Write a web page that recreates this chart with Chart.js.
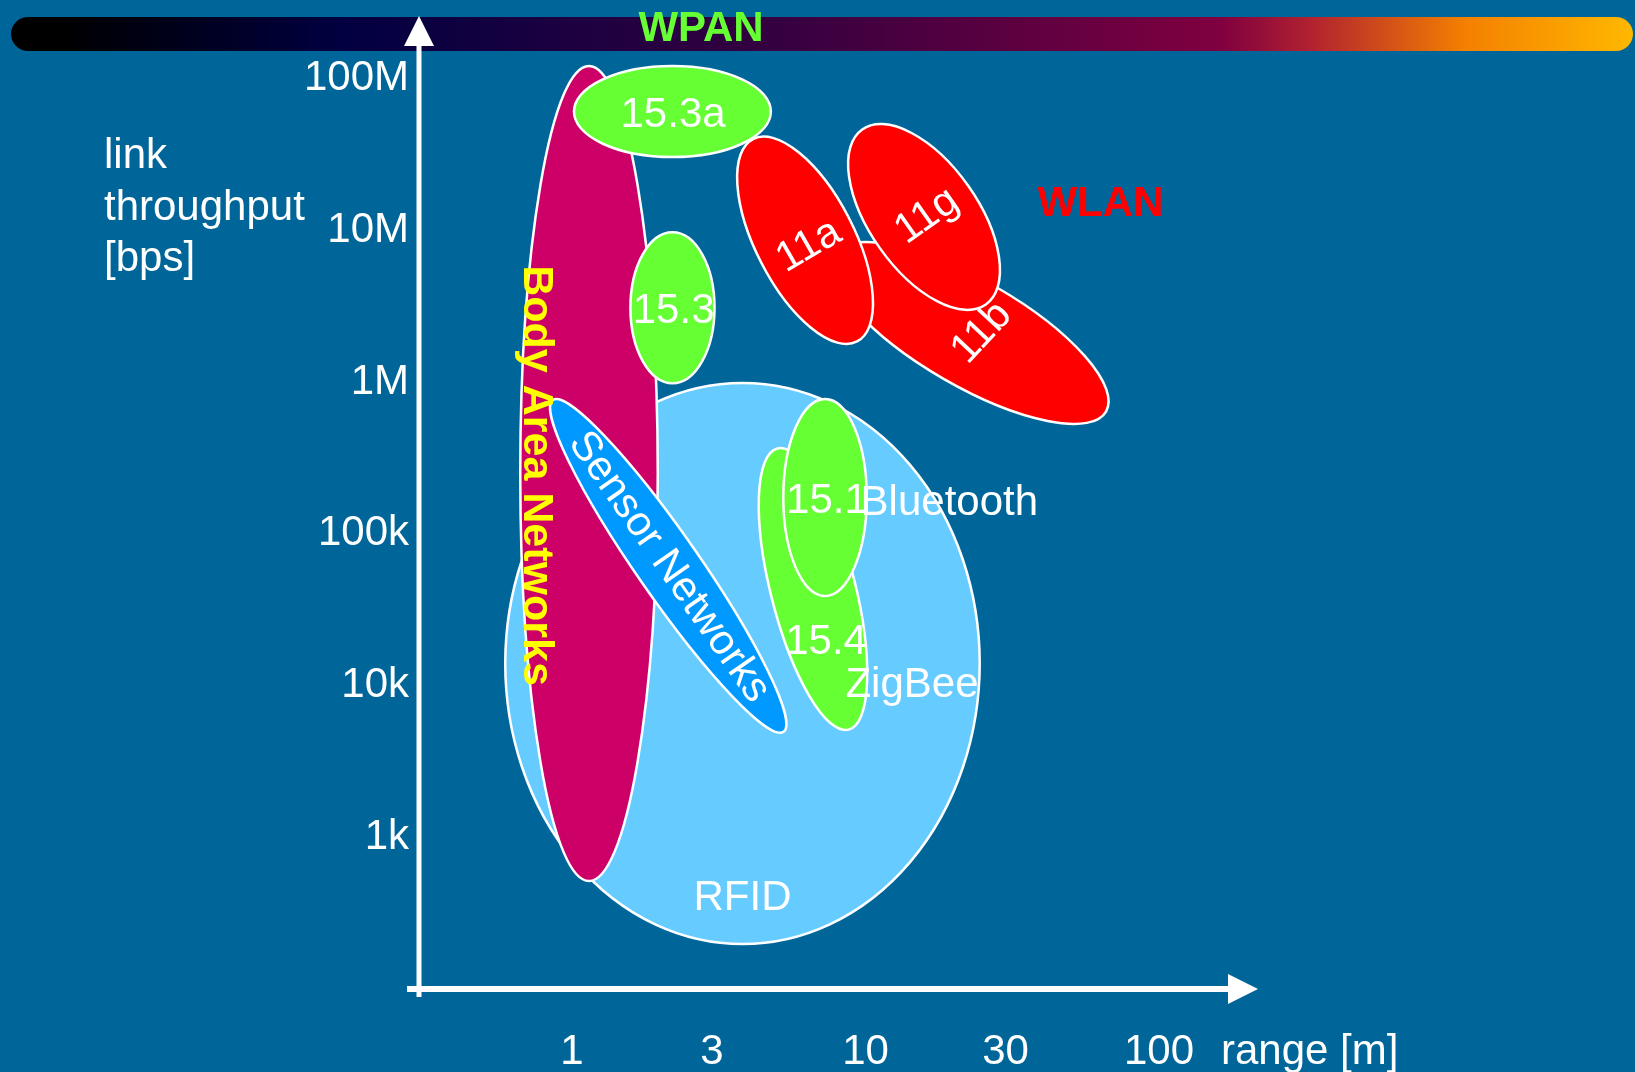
<!DOCTYPE html>
<html>
<head>
<meta charset="utf-8">
<title>Wireless technologies: range vs. link throughput</title>
<script src="https://cdn.jsdelivr.net/npm/chart.js@4/dist/chart.umd.min.js"></script>
<style>
  html, body { margin: 0; padding: 0; background: #006699; overflow: hidden; }
  canvas { display: block; }
</style>
</head>
<body>
<canvas id="chart" width="1635" height="1072" style="width:1635px;height:1072px"></canvas>
<script>
// Wireless technologies placed by range [m] (x) and link throughput [bps] (y).
// Every zone is an ellipse given by three points in data units:
// both ends of its long axis and one end of its short axis.
const zoneNames = ['RFID', 'Body Area Networks', '15.3a', '15.3', 'Sensor Networks',
                   '15.4', '15.1', '11b', '11a', '11g'];
const axisStart = [[3.81, 9.85e5], [1.143, 1.21e8], [1.016, 6.06e7], [2.2, 9.70e6], [0.861, 7.60e5],
                   [5.01, 3.65e5], [7.28, 7.73e5], [7.81, 6.92e6], [4.14, 3.99e7], [9.75, 4.62e7]];
const axisEnd   = [[3.81, 198], [1.143, 515], [4.76, 6.06e7], [2.2, 9.81e5], [5.26, 4950],
                   [8.76, 5120], [7.28, 3.89e4], [66.0, 6.39e5], [9.36, 1.85e6], [25.7, 3.24e6]];
const sideEnd   = [[24.5, 1.397e4], [1.96, 2.50e5], [2.2, 1.21e8], [3.06, 3.08e6], [2.6, 8.02e4],
                   [9.13, 5.07e4], [10.1, 1.73e5], [27.9, 4.22e6], [8.77, 1.21e7], [22.4, 1.96e7]];

// Captions, anchored at [range m, throughput bps]
const labelTexts = ['RFID', 'Body Area Networks', '15.3a', '15.3', 'Sensor Networks', '15.4', '15.1',
                    '11b', '11a', '11g', 'Bluetooth', 'ZigBee', 'WLAN'];
const labelAt = [[3.81, 394], [0.754, 2.42e5], [2.21, 5.67e7], [2.22, 2.94e6], [2.14, 6.04e4],
                 [7.34, 1.91e4], [7.39, 1.64e5], [24.9, 2.11e6], [6.42, 7.88e6], [16.2, 1.24e7],
                 [19.3, 1.58e5], [14.4, 1.0e4], [63.2, 1.47e7]];

// Axis ticks
const rangeTicks = [1, 3, 10, 30, 100];
const rangeTickLabels = ['1', '3', '10', '30', '100'];
const rateTicks = [1e3, 1e4, 1e5, 1e6, 1e7, 1e8];
const rateTickLabels = ['1k', '10k', '100k', '1M', '10M', '100M'];

// ---- styling ----
const FONT = '"Liberation Sans", Arial, sans-serif';
const zoneFill = {
  'RFID': '#66ccff', 'Body Area Networks': '#cc0066', '15.3a': '#66ff33', '15.3': '#66ff33',
  'Sensor Networks': '#0099ff', '15.4': '#66ff33', '15.1': '#66ff33',
  '11b': '#ff0000', '11a': '#ff0000', '11g': '#ff0000'
};
const labelStyle = {
  'Body Area Networks': { rotate: 90, color: '#ffff00', bold: true, size: 43 },
  'Sensor Networks': { rotate: 55 },
  '11b': { rotate: -47 },
  '11a': { rotate: -30 },
  '11g': { rotate: -35 },
  'WLAN': { color: '#ff0000', bold: true }
};

// Background, and the WPAN colour band across the top
const backdrop = {
  id: 'backdrop',
  beforeDraw(chart) {
    const { ctx, width, height } = chart;
    ctx.save();
    ctx.fillStyle = '#006699';
    ctx.fillRect(0, 0, width, height);
    const x0 = 11, x1 = 1633, y0 = 17, h = 34;
    const g = ctx.createLinearGradient(x0, 0, x1, 0);
    g.addColorStop(0, '#000000');
    g.addColorStop(0.03, '#000000');
    g.addColorStop(0.2, '#000040');
    g.addColorStop(0.486, '#380040');
    g.addColorStop(0.746, '#800040');
    g.addColorStop(0.80, '#b02030');
    g.addColorStop(0.897, '#f48000');
    g.addColorStop(1, '#ffb800');
    ctx.fillStyle = g;
    ctx.beginPath();
    ctx.roundRect(x0, y0, x1 - x0, h, h / 2);
    ctx.fill();
    ctx.fillStyle = '#66ff33';
    ctx.font = 'bold 42px ' + FONT;
    ctx.textAlign = 'center';
    ctx.textBaseline = 'middle';
    ctx.fillText('WPAN', 701, 29);
    ctx.restore();
  }
};

// One filled, white-edged ellipse per dataset, in dataset order
const zones = {
  id: 'zones',
  beforeDatasetsDraw(chart) {
    const { ctx } = chart;
    const xs = chart.scales.x, ys = chart.scales.y;
    chart.data.datasets.forEach(ds => {
      const [p1, p2, p3] = ds.data.map(d => ({ x: xs.getPixelForValue(d.x), y: ys.getPixelForValue(d.y) }));
      const cx = (p1.x + p2.x) / 2, cy = (p1.y + p2.y) / 2;
      const a = Math.hypot(p2.x - p1.x, p2.y - p1.y) / 2;
      const b = Math.hypot(p3.x - cx, p3.y - cy);
      const ang = Math.atan2(p2.y - p1.y, p2.x - p1.x);
      ctx.save();
      ctx.beginPath();
      ctx.ellipse(cx, cy, a, b, ang, 0, Math.PI * 2);
      ctx.fillStyle = ds.backgroundColor;
      ctx.fill();
      ctx.lineWidth = 2.5;
      ctx.strokeStyle = '#ffffff';
      ctx.stroke();
      ctx.restore();
    });
  }
};

const zoneLabels = {
  id: 'zoneLabels',
  afterDatasetsDraw(chart) {
    const { ctx } = chart;
    const xs = chart.scales.x, ys = chart.scales.y;
    labelTexts.forEach((t, i) => {
      const st = labelStyle[t] || {};
      const px = xs.getPixelForValue(labelAt[i][0]);
      const py = ys.getPixelForValue(labelAt[i][1]);
      ctx.save();
      ctx.translate(px, py);
      ctx.rotate((st.rotate || 0) * Math.PI / 180);
      ctx.font = (st.bold ? 'bold ' : '') + (st.size || 42) + 'px ' + FONT;
      ctx.fillStyle = st.color || '#ffffff';
      ctx.textAlign = 'center';
      ctx.textBaseline = 'middle';
      ctx.fillText(t, 0, 0);
      ctx.restore();
    });
  }
};

// Arrowed axes and axis titles
const axes = {
  id: 'axes',
  afterDraw(chart) {
    const { ctx } = chart;
    const { left, right, top, bottom } = chart.chartArea;
    ctx.save();
    ctx.fillStyle = '#ffffff';
    ctx.fillRect(left - 2.5, top + 28, 5, bottom + 8 - (top + 28));
    ctx.fillRect(left - 12, bottom - 3, right - 29 - (left - 12), 6);
    ctx.beginPath();
    ctx.moveTo(left, top);
    ctx.lineTo(left + 15, top + 30);
    ctx.lineTo(left - 15, top + 30);
    ctx.closePath();
    ctx.fill();
    ctx.beginPath();
    ctx.moveTo(right, bottom);
    ctx.lineTo(right - 30, bottom - 15);
    ctx.lineTo(right - 30, bottom + 15);
    ctx.closePath();
    ctx.fill();

    ctx.font = '42px ' + FONT;
    ctx.textAlign = 'left';
    ctx.textBaseline = 'alphabetic';
    ctx.fillText('link', 104, 168);
    ctx.fillText('throughput', 104, 219.5);
    ctx.fillText('[bps]', 104, 271);
    ctx.textBaseline = 'middle';
    ctx.fillText('range [m]', 1221, bottom + 63);
    ctx.restore();
  }
};

const tickFont = { family: FONT, size: 42 };

new Chart(document.getElementById('chart'), {
  type: 'scatter',
  data: {
    datasets: zoneNames.map((n, i) => ({
      label: n,
      data: [axisStart[i], axisEnd[i], sideEnd[i]].map(([x, y]) => ({ x, y })),
      backgroundColor: zoneFill[n],
      pointRadius: 0,
      pointHoverRadius: 0
    }))
  },
  options: {
    responsive: false,
    animation: false,
    devicePixelRatio: 1,
    events: [],
    layout: { padding: { left: 0, top: 16, right: 377, bottom: 0 } },
    plugins: { legend: { display: false }, tooltip: { enabled: false } },
    scales: {
      x: {
        type: 'logarithmic',
        position: 'bottom',
        min: 0.3012,
        max: 217.4,
        bounds: 'data',
        grid: { display: false, drawTicks: false },
        border: { display: false },
        afterBuildTicks: s => { s.ticks = rangeTicks.map(v => ({ value: v })); },
        afterFit: s => { s.height = 83; s.paddingLeft = 0; s.paddingRight = 0; },
        ticks: {
          autoSkip: false, maxRotation: 0, minRotation: 0, padding: 38,
          color: '#ffffff', font: tickFont,
          callback: (v, i) => rangeTickLabels[i]
        }
      },
      y: {
        type: 'logarithmic',
        position: 'left',
        min: 100,
        max: 2.582e8,
        bounds: 'data',
        grid: { display: false, drawTicks: false },
        border: { display: false },
        afterBuildTicks: s => { s.ticks = rateTicks.map(v => ({ value: v })); },
        afterFit: s => { s.width = 419; s.paddingTop = 0; s.paddingBottom = 0; },
        ticks: {
          autoSkip: false, padding: 10,
          color: '#ffffff', font: tickFont,
          callback: (v, i) => rateTickLabels[i]
        }
      }
    }
  },
  plugins: [backdrop, zones, zoneLabels, axes]
});
</script>
</body>
</html>
